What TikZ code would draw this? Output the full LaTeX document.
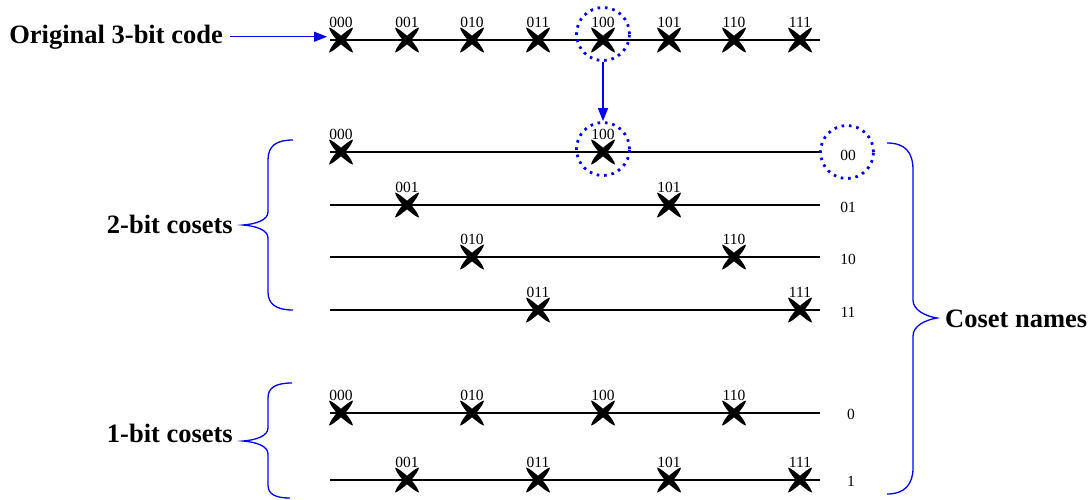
\documentclass[tikz,border=0pt]{standalone}
\usepackage{fontspec}
\setmainfont{Liberation Serif}
\usetikzlibrary{arrows.meta}
\begin{document}
\begin{tikzpicture}[x=1pt,y=-1pt,
  axisline/.style={line width=1.2pt, black},
  xmark/.style={minimum size=28pt, inner sep=0pt, outer sep=0pt,
    path picture={\fill[black, shift={(path picture bounding box.center)}]
      (-12,-12.5) .. controls (-9,-12) and (-4,-7.5) .. (0,-4.3)
      .. controls (4,-7.5) and (9,-12) .. (12,-12.5)
      .. controls (11.5,-9) and (7.5,-4) .. (4.3,0)
      .. controls (7.5,4) and (11.5,9) .. (12,12.5)
      .. controls (9,12) and (4,7.5) .. (0,4.3)
      .. controls (-4,7.5) and (-9,12) .. (-12,12.5)
      .. controls (-11.5,9) and (-7.5,4) .. (-4.3,0)
      .. controls (-7.5,-4) and (-11.5,-9) .. cycle;}},
  lab/.style={anchor=base, inner sep=0pt, font=\fontsize{15.5}{18}\selectfont},
  cname/.style={inner sep=0pt, font=\fontsize{15.5}{18}\selectfont},
  big/.style={inner sep=0pt, font=\fontsize{26.5}{30}\selectfont\bfseries},
  dotcirc/.style={circle, draw=blue, line width=2.8pt, dash pattern=on 2.6pt off 4.8pt,
    minimum size=53pt, inner sep=0pt},
  barrow/.style={blue, line width=1.3pt, -{Triangle[length=13pt,width=10pt]}},
  bracepath/.style={blue, line width=1.3pt}
]
\useasboundingbox (0,0) rectangle (1091,499);

% axis lines
\foreach \r/\y in {T/40,a/152,b/205,c/257,d/310,e/413,f/480}{
  \coordinate (s\r) at (330,\y);
  \coordinate (e\r) at (820,\y);
  \draw[axisline] (s\r) -- (e\r);
}

% top row: original code
\foreach \c/\x in {000/341,001/407,010/472,011/538,100/603,101/669,110/734,111/800}{
  \node[xmark] (T\c) at (\x,40) {};
  \node[lab] (LT\c) at (\x,27) {\c};
}

% 2-bit cosets
\foreach \r/\y/\ca/\xa/\cb/\xb in {a/152/000/341/100/603, b/205/001/407/101/669,
                                   c/257/010/472/110/734, d/310/011/538/111/800}{
  \node[xmark] (X\r\ca) at (\xa,\y) {};
  \node[lab] (L\r\ca) at (\xa,\y-13) {\ca};
  \node[xmark] (X\r\cb) at (\xb,\y) {};
  \node[lab] (L\r\cb) at (\xb,\y-13) {\cb};
}

% 1-bit cosets
\foreach \c/\x in {000/341,010/472,100/603,110/734}{
  \node[xmark] (Xe\c) at (\x,413) {};
  \node[lab] (Le\c) at (\x,400) {\c};
}
\foreach \c/\x in {001/407,011/538,101/669,111/800}{
  \node[xmark] (Xf\c) at (\x,480) {};
  \node[lab] (Lf\c) at (\x,467) {\c};
}

% coset names
\node[cname] (n00) at (848,155) {00};
\node[cname] (n01) at (848,207) {01};
\node[cname] (n10) at (848,259) {10};
\node[cname] (n11) at (848,312) {11};
\node[cname] (n0) at (851,414) {0};
\node[cname] (n1) at (851,481) {1};

% dotted circles
\node[dotcirc] (c1) at (603,34) {};
\node[dotcirc] (c2) at (603,149) {};
\node[dotcirc] (c3) at (847,152) {};

% texts
\node[big, anchor=base east] (title) at (223,43) {Original 3-bit code};
\node[big, anchor=base east] (two) at (233,233) {2-bit cosets};
\node[big, anchor=base east] (one) at (233,442) {1-bit cosets};
\node[big, anchor=base west] (names) at (945,327) {Coset names};

% arrows
\draw[barrow] ([xshift=7pt]title.east) -- (title.east -| T000.west);
\draw[barrow] (c1) -- (c2);

% braces
\draw[bracepath] (293,140) .. controls (276,140) and (268,146) .. (268,160) -- (268,212)
  .. controls (268,220) and (256,224) .. (243,225)
  .. controls (256,226) and (268,230) .. (268,238) -- (268,292)
  .. controls (268,304) and (276,310) .. (293,310);
\draw[bracepath] (292,383) .. controls (275,383) and (268,388) .. (268,398) -- (268,428)
  .. controls (268,436) and (256,440) .. (243,441)
  .. controls (256,442) and (268,446) .. (268,454) -- (268,485)
  .. controls (268,494) and (275,498) .. (290,498);
\draw[bracepath] (887,143) .. controls (905,143) and (913,152) .. (913,170) -- (913,300)
  .. controls (913,310) and (925,316) .. (937,318)
  .. controls (925,320) and (913,326) .. (913,336) -- (913,468)
  .. controls (913,484) and (905,494) .. (887,494);
\end{tikzpicture}
\end{document}
